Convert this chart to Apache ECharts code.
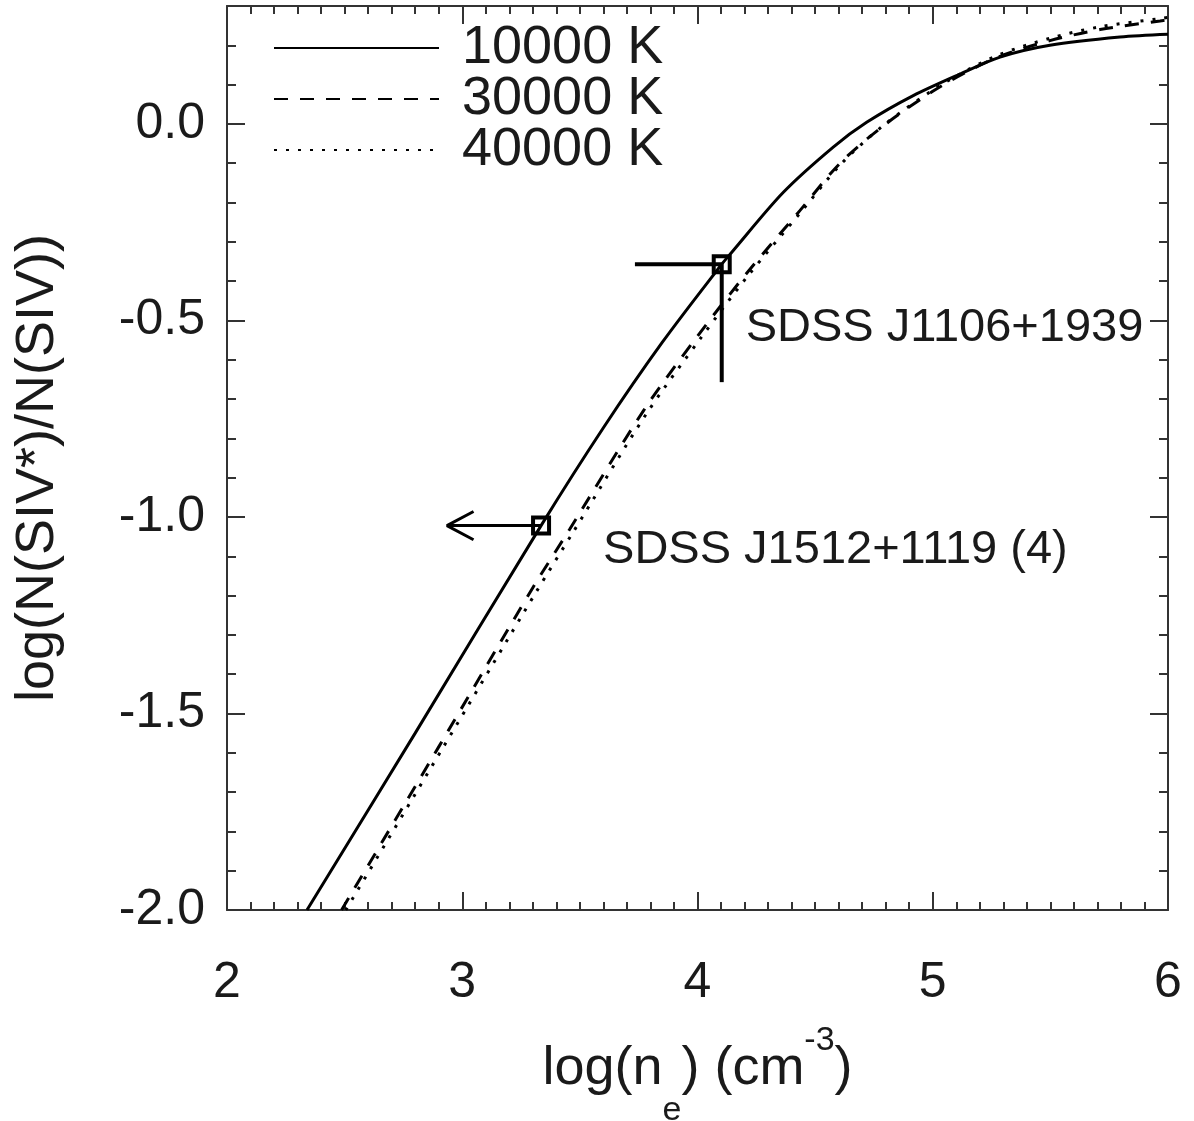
<!DOCTYPE html>
<html>
<head>
<meta charset="utf-8">
<script src="https://cdn.jsdelivr.net/npm/echarts@6/dist/echarts.min.js"></script>
<style>
  html, body { margin: 0; padding: 0; background: #fff; }
  #chart { width: 1194px; height: 1121px; }
</style>
</head>
<body>
<div id="chart"></div>
<script>
// log(ne) / log ratio
const ne10000 = [2.34, 2.8, 3.335, 3.6, 3.85, 4.103, 4.145, 4.365, 4.577, 4.719, 4.917, 5.116, 5.286, 5.498, 5.796, 6.0];
const r10000  = [-2.0, -1.55, -1.022, -0.773, -0.556, -0.357, -0.327, -0.174, -0.059, 0.004, 0.072, 0.127, 0.170, 0.200, 0.221, 0.228];
const ne30000 = [2.487, 2.9, 3.3, 3.458, 3.77, 4.0, 4.209, 4.436, 4.606, 4.79, 5.0, 5.144, 5.286, 5.498, 5.711, 5.966, 6.0];
const r30000  = [-2.0, -1.585, -1.18, -1.03, -0.73, -0.54, -0.38, -0.22, -0.10, -0.005, 0.083, 0.132, 0.172, 0.212, 0.240, 0.262, 0.265];
const ne40000 = [2.505, 2.915, 3.315, 3.47, 3.78, 4.01, 4.215, 4.44, 4.61, 4.79, 5.0, 5.144, 5.286, 5.498, 5.711, 5.966, 6.0];
const r40000  = [-2.0, -1.59, -1.19, -1.04, -0.74, -0.548, -0.386, -0.224, -0.102, -0.004, 0.086, 0.136, 0.177, 0.218, 0.247, 0.268, 0.271];

// measured quasars
const obsNames = ['SDSS J1106+1939', 'SDSS J1512+1119 (4)'];
const obsNe    = [4.103, 3.335];
const obsRatio = [-0.357, -1.022];
const obsNeLow    = [3.734, 2.935];   // second one is an upper limit (arrow)
const obsRatioLow = [-0.657, null];
const arrowHeadDx = 0.113;
const arrowHeadDy = 0.036;

const xTicks = [2, 3, 4, 5, 6];
const yTicks = [-2.0, -1.5, -1.0, -0.5, 0.0];

const FONT = "'Liberation Sans', Arial, Helvetica, sans-serif";
const INK = '#1a1a1a';
const AXIS = '#333';

const zip = (xs, ys) => xs.map((x, i) => [x, ys[i]]);

const chart = echarts.init(document.getElementById('chart'));

const curve = (name, xs, ys, type) => ({
  name,
  type: 'line',
  data: zip(xs, ys),
  symbol: 'none',
  smooth: 0.3,
  color: '#000',
  lineStyle: { color: '#000', width: 3, type },
  z: 3
});

const seg = (pts, width) => ({
  type: 'line',
  data: pts,
  symbol: 'none',
  silent: true,
  lineStyle: { color: '#000', width },
  z: 4
});

const labelOffsets = [[9, 64], [47, 24]];

const series = [
  curve('10000 K', ne10000, r10000, 'solid'),
  curve('30000 K', ne30000, r30000, [14, 12]),
  curve('40000 K', ne40000, r40000, [3, 9]),
  // J1106 error bars (left and down)
  seg([[obsNeLow[0], obsRatio[0]], [obsNe[0], obsRatio[0]]], 4),
  seg([[obsNe[0], obsRatioLow[0]], [obsNe[0], obsRatio[0]]], 4),
  // J1512 upper limit arrow
  seg([[obsNe[1], obsRatio[1]], [obsNeLow[1], obsRatio[1]]], 3),
  seg([
    [obsNeLow[1] + arrowHeadDx, obsRatio[1] + arrowHeadDy],
    [obsNeLow[1], obsRatio[1]],
    [obsNeLow[1] + arrowHeadDx, obsRatio[1] - arrowHeadDy]
  ], 3),
  {
    type: 'scatter',
    data: obsNames.map((n, i) => ({
      name: n,
      value: [obsNe[i], obsRatio[i]],
      label: { offset: labelOffsets[i] }
    })),
    symbol: 'rect',
    symbolSize: 16,
    itemStyle: { color: 'rgba(255,255,255,0)', borderColor: '#000', borderWidth: 4, opacity: 1 },
    label: {
      show: true,
      position: 'right',
      formatter: p => p.name,
      fontFamily: FONT,
      fontSize: 47,
      color: INK
    },
    z: 5
  }
];

const tickBase = {
  axisLine: { show: true, onZero: false, lineStyle: { color: AXIS, width: 2 } },
  splitLine: { show: false }
};

chart.setOption({
  animation: false,
  backgroundColor: '#fff',
  grid: { left: 227, right: 26, top: 6, bottom: 211, containLabel: false, outerBoundsMode: 'none' },
  legend: {
    orient: 'vertical',
    left: 273,
    top: 21,
    padding: 0,
    itemGap: -3,
    itemWidth: 165,
    itemHeight: 20,
    data: ['10000 K', '30000 K', '40000 K'],
    itemStyle: { color: 'rgba(0,0,0,0)', borderWidth: 0, opacity: 0 },
    textStyle: { fontFamily: FONT, fontSize: 54, color: INK, lineHeight: 48, padding: [0, 0, 0, 18] }
  },
  xAxis: [
    Object.assign({
      type: 'value', position: 'bottom', min: 2, max: 6, interval: 1,
      axisTick: { show: true, inside: true, length: 18, lineStyle: { color: AXIS, width: 2 } },
      minorTick: { show: true, splitNumber: 10, length: 8, lineStyle: { color: AXIS, width: 2 } },
      axisLabel: {
        margin: 48, fontFamily: FONT, fontSize: 50, color: INK,
        formatter: v => xTicks.includes(v) ? String(v) : ''
      },
      name: '{b|log(n}{sub|e}{b|) (cm}{sup|-3}{b|)}',
      nameLocation: 'middle',
      nameGap: 100,
      nameTextStyle: {
        rich: {
          b: { fontFamily: FONT, fontSize: 54, color: INK },
          sub: { fontFamily: FONT, fontSize: 34, color: INK, padding: [84, 0, 0, 0] },
          sup: { fontFamily: FONT, fontSize: 34, color: INK, padding: [0, 0, 56, 0] }
        }
      }
    }, tickBase),
    Object.assign({
      type: 'value', position: 'top', min: 2, max: 6, interval: 1,
      axisTick: { show: true, inside: true, length: 18, lineStyle: { color: AXIS, width: 2 } },
      minorTick: { show: true, splitNumber: 10, length: 8, lineStyle: { color: AXIS, width: 2 } },
      axisLabel: { show: false }
    }, tickBase)
  ],
  yAxis: [
    Object.assign({
      type: 'value', position: 'left', min: -2.0, max: 0.3, interval: 0.5,
      axisTick: { show: true, inside: true, length: 18, lineStyle: { color: AXIS, width: 2 } },
      axisLabel: {
        margin: 22, fontFamily: FONT, fontSize: 50, color: INK, showMaxLabel: false,
        formatter: v => yTicks.some(t => Math.abs(t - v) < 1e-6) ? v.toFixed(1) : ''
      },
      name: 'log(N(SIV*)/N(SIV))',
      nameLocation: 'middle',
      nameRotate: 90,
      nameGap: 162,
      nameTextStyle: { fontFamily: FONT, fontSize: 54, color: INK, padding: [0, 20, 0, 0] }
    }, tickBase),
    {
      type: 'value', position: 'left', min: -2.0, max: 0.3, interval: 0.1,
      axisLine: { show: false }, splitLine: { show: false }, axisLabel: { show: false },
      axisTick: { show: true, inside: true, length: 9, lineStyle: { color: AXIS, width: 2 } }
    },
    Object.assign({
      type: 'value', position: 'right', min: -2.0, max: 0.3, interval: 0.5,
      axisTick: { show: true, inside: true, length: 18, lineStyle: { color: AXIS, width: 2 } },
      axisLabel: { show: false }
    }, tickBase),
    {
      type: 'value', position: 'right', min: -2.0, max: 0.3, interval: 0.1,
      axisLine: { show: false }, splitLine: { show: false }, axisLabel: { show: false },
      axisTick: { show: true, inside: true, length: 9, lineStyle: { color: AXIS, width: 2 } }
    }
  ],
  series
});

window.addEventListener('resize', () => chart.resize());
</script>
</body>
</html>
